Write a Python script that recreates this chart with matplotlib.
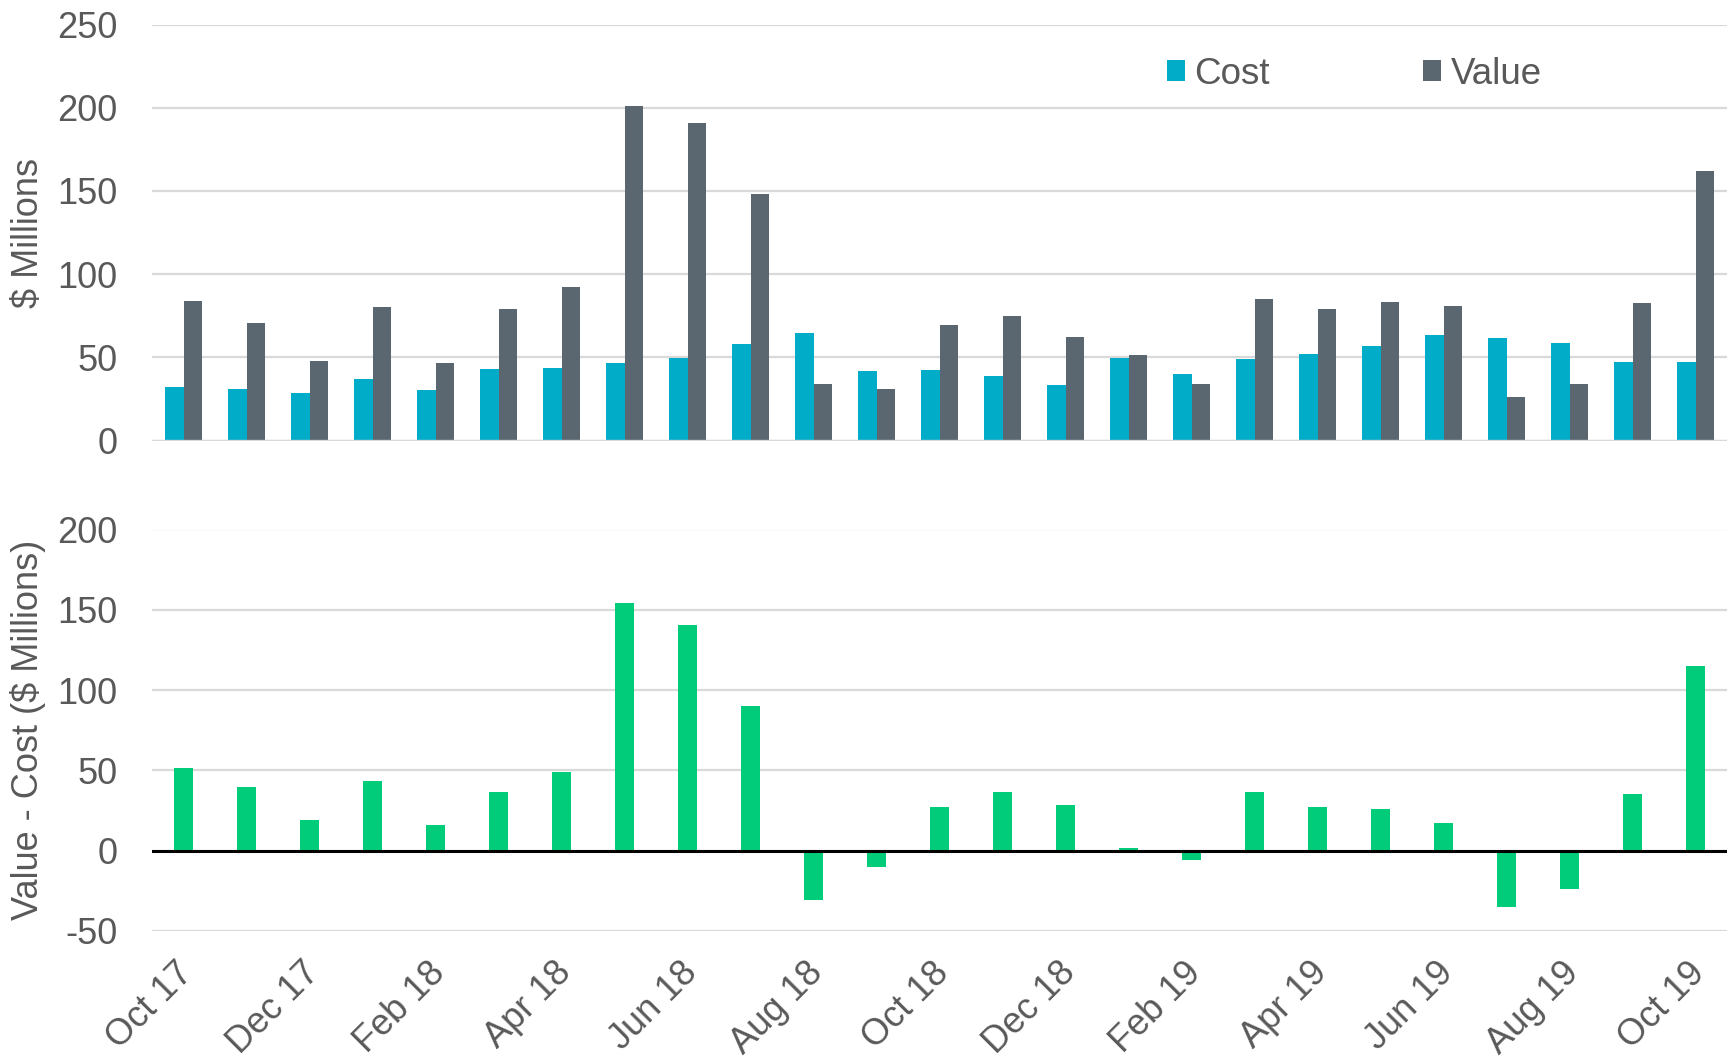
import matplotlib
matplotlib.use("Agg")
import matplotlib.pyplot as plt
from matplotlib.transforms import ScaledTranslation
import numpy as np

months = ["Oct 17", "Nov 17", "Dec 17", "Jan 18", "Feb 18", "Mar 18", "Apr 18",
          "May 18", "Jun 18", "Jul 18", "Aug 18", "Sep 18", "Oct 18", "Nov 18",
          "Dec 18", "Jan 19", "Feb 19", "Mar 19", "Apr 19", "May 19", "Jun 19",
          "Jul 19", "Aug 19", "Sep 19", "Oct 19"]

cost = [32.3, 31.3, 28.5, 37.1, 30.7, 42.9, 43.9, 46.5, 49.9, 58.1, 64.7, 41.7,
        42.5, 38.9, 33.5, 49.9, 39.9, 48.9, 52.1, 56.9, 63.3, 61.7, 58.5, 47.3, 47.1]

value = [84.2, 70.7, 47.7, 80.4, 46.9, 79.4, 92.4, 201.2, 190.6, 148.1, 33.9, 31.3,
         69.5, 75.2, 62.1, 51.3, 34.1, 85.0, 79.0, 83.2, 80.8, 26.3, 34.1, 82.8, 161.9]

gain = [51.8, 39.4, 18.9, 43.2, 16.0, 36.5, 48.7, 154.4, 140.6, 90.2, -30.8, -10.3,
        27.2, 36.5, 28.6, 1.4, -5.5, 36.3, 27.0, 26.0, 17.4, -35.3, -24.1, 35.3, 114.8]

top_ticks = [0, 50, 100, 150, 200, 250]
bottom_ticks = [-50, 0, 50, 100, 150, 200]

COST_C = "#00ACC8"
VALUE_C = "#5A6670"
GAIN_C = "#00CC7A"
TEXT_C = "#595959"
GRID_C = "#D9D9D9"

plt.rcParams["font.family"] = ["Liberation Sans", "DejaVu Sans"]
plt.rcParams["axes.unicode_minus"] = False
FS = 26

W, H = 1736, 1063
fig = plt.figure(figsize=(W / 100, H / 100), dpi=100)

left, right = 152 / W, 1727 / W
ax1 = fig.add_axes([left, 1 - 440.7 / H, right - left, (440.7 - 24.5) / H])
ax2 = fig.add_axes([left, 1 - 931 / H, right - left, (931 - 529.5) / H])

x = np.arange(len(months))
bw = 0.286

ax1.bar(x - bw / 2, cost, width=bw, color=COST_C, label="Cost", zorder=3)
ax1.bar(x + bw / 2, value, width=bw, color=VALUE_C, label="Value", zorder=3)
ax1.set_ylim(0, 250)
ax1.set_yticks(top_ticks)
ax1.set_xticks([])

ax2.bar(x, gain, width=0.31, color=GAIN_C, zorder=3)
ax2.axhline(0, color="black", lw=2.2, zorder=4)
ax2.set_ylim(-50, 200)
ax2.set_yticks(bottom_ticks)
ax2.set_xticks(x[::2])

for ax in (ax1, ax2):
    ax.set_xlim(-0.5, len(months) - 0.5)
    for s in ax.spines.values():
        s.set_visible(False)
    ax.grid(axis="y", color=GRID_C, lw=1.6, zorder=0)
    ax.set_axisbelow(True)
    ax.tick_params(axis="both", length=0, labelsize=FS, labelcolor=TEXT_C)
    ax.tick_params(axis="y", pad=25)
ax2.tick_params(axis="x", pad=17.5)

ax2.set_xticklabels(months[::2], rotation=45, ha="right", va="top",
                    rotation_mode="anchor", fontsize=FS, color=TEXT_C)
shift = ScaledTranslation(-8 / 100, 0, fig.dpi_scale_trans)
for lbl in ax2.get_xticklabels():
    lbl.set_transform(lbl.get_transform() + shift)

# axis titles
fig.text(28 / W, 1 - 232.6 / H, "$ Millions", rotation=90, ha="center",
         va="center", fontsize=FS, color=TEXT_C)
fig.text(28 / W, 1 - 730 / H, "Value - Cost ($ Millions)", rotation=90,
         ha="center", va="center", fontsize=FS, color=TEXT_C)

# top baseline in the gridline grey
ax1.axhline(0, color=GRID_C, lw=2.4, zorder=4)

leg = ax1.legend(loc="center left", bbox_to_anchor=(1167 / W, 1 - 74 / H),
                 bbox_transform=fig.transFigure, ncol=2, frameon=False,
                 fontsize=26.5, handlelength=0.5, handleheight=0.5,
                 handletextpad=0.25, columnspacing=4.15, borderaxespad=0,
                 borderpad=0)
for t in leg.get_texts():
    t.set_color(TEXT_C)

fig.savefig("out.png", dpi=100, facecolor="white")
